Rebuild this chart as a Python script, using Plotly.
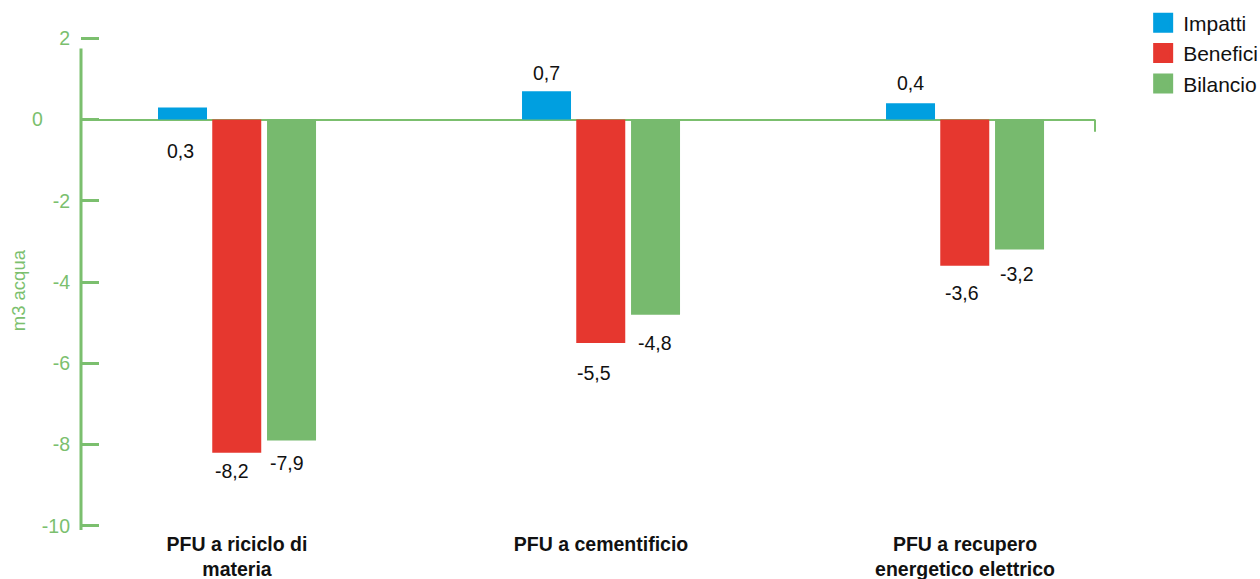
import plotly.graph_objects as go

# ---- data ----
categories = ["PFU a riciclo di<br>materia", "PFU a cementificio", "PFU a recupero<br>energetico elettrico"]
series_names = ["Impatti", "Benefici", "Bilancio"]
impatti = [0.3, 0.7, 0.4]
benefici = [-8.2, -5.5, -3.6]
bilancio = [-7.9, -4.8, -3.2]
y_tick_vals = [-10, -8, -6, -4, -2, 0, 2]
y_tick_text = ["-10", "-8", "-6", "-4", "-2", "0\u00a0\u00a0\u00a0\u00a0\u00a0", "2"]
y_title = "m3 acqua"

# ---- styles ----
colors = ["#009FE0", "#E6372F", "#77BA6E"]
axis_green = "#7BBF6E"
font_family = "Liberation Sans, Arial, Helvetica, sans-serif"
bar_width = 0.1346
bar_offsets = [-0.217, -0.068, 0.0825]
# label shifts (px) relative to bar end, per series per category
label_xshift = [[-2, 0, 0], [-4.5, -6.5, -2.5], [-5, -0.5, -2.5]]
label_yshift = [[-44, 18, 20], [-18, -30, -27], [-22, -28, -24]]

values = [impatti, benefici, bilancio]
xs = list(range(len(categories)))

fig = go.Figure()
for s, name in enumerate(series_names):
    fig.add_trace(go.Bar(
        x=xs, y=values[s], width=bar_width, offset=bar_offsets[s],
        marker=dict(color=colors[s], line=dict(width=0)),
        showlegend=False, name=name, hoverinfo="y",
    ))
    # legend proxy
    fig.add_trace(go.Scatter(
        x=[None], y=[None], mode="markers", name=name,
        marker=dict(symbol="square", size=16, color=colors[s],
                    line=dict(color=colors[s], width=4)),
    ))

annotations = []
for s in range(len(series_names)):
    for i, v in enumerate(values[s]):
        annotations.append(dict(
            x=i + bar_offsets[s] + bar_width / 2, y=v, xref="x", yref="y",
            text=f"{v:.1f}".replace(".", ","), showarrow=False,
            xshift=label_xshift[s][i], yshift=label_yshift[s][i],
            font=dict(family=font_family, size=19.5, color="#111111"),
            xanchor="center", yanchor="middle",
        ))
annotations.append(dict(
    x=-0.0621, y=-4.2, xref="paper", yref="y", text=y_title, textangle=-90,
    showarrow=False, font=dict(family=font_family, size=18.5, color=axis_green),
    xanchor="center", yanchor="middle",
))

shapes = [
    dict(type="line", xref="paper", yref="y", x0=0, x1=0, y0=1.75, y1=-10.22,
         line=dict(color=axis_green, width=3)),
    dict(type="line", xref="paper", yref="y", x0=1, x1=1, y0=0, y1=-0.3,
         line=dict(color=axis_green, width=2)),
]

fig.update_layout(
    width=1260, height=579,
    margin=dict(l=81, r=165, t=18, b=49, autoexpand=False),
    plot_bgcolor="white", paper_bgcolor="white",
    barmode="overlay",
    font=dict(family=font_family, color="#111111"),
    annotations=annotations, shapes=shapes,
    legend=dict(x=1.0475, y=1.03, xanchor="left", yanchor="top",
                font=dict(family=font_family, size=21, color="#111111"),
                bgcolor="rgba(0,0,0,0)", borderwidth=0),
    xaxis=dict(range=[-0.42857, 2.3571], tickvals=xs, ticktext=categories,
               showgrid=False, zeroline=False, showline=False, ticks="",
               tickfont=dict(family=font_family, size=19.5, color="#111111", weight="bold")),
    yaxis=dict(range=[-10.1, 2.5], tickvals=y_tick_vals, ticktext=y_tick_text,
               showgrid=False, showline=False, zeroline=True, zerolinecolor=axis_green,
               zerolinewidth=2.3, ticks="inside", ticklen=18, tickwidth=3,
               tickcolor=axis_green, ticklabelstandoff=10,
               tickfont=dict(family=font_family, size=19.5, color=axis_green)),
)

fig.write_html("out.html", config={"displayModeBar": False},
               post_script="document.body.style.margin='0';document.body.style.overflow='hidden';")
